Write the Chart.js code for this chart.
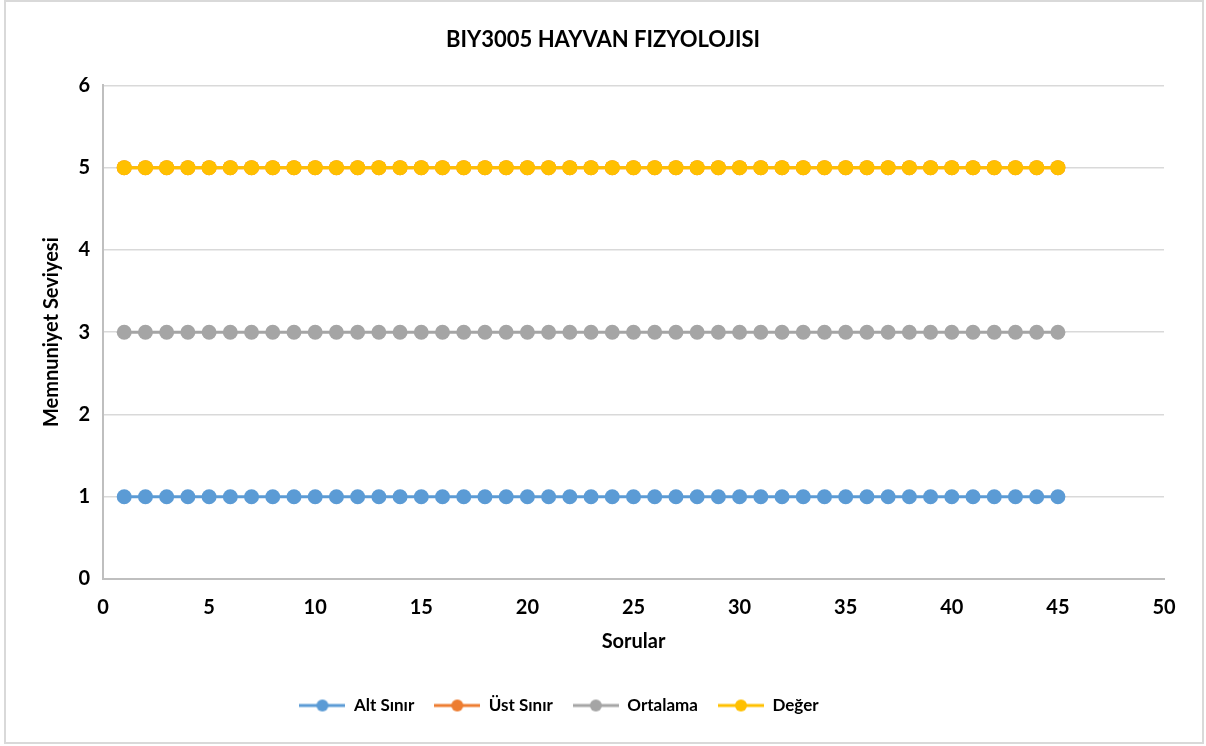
<!DOCTYPE html>
<html>
<head>
<meta charset="utf-8">
<script src="https://cdn.jsdelivr.net/npm/chart.js@4.4.0/dist/chart.umd.min.js"></script>
<style>
  body { margin: 0; background: #fff; }
  #wrap { width: 1206px; height: 746px; position: relative; }
</style>
</head>
<body>
<div id="wrap"><canvas id="myChart" width="1206" height="746"></canvas></div>
<script>
// data: 45 questions, flat lines
const sorular = [];
for (let i = 1; i <= 45; i++) sorular.push(i);

const altSinir = [1,1,1,1,1,1,1,1,1,1,1,1,1,1,1,1,1,1,1,1,1,1,1,1,1,1,1,1,1,1,1,1,1,1,1,1,1,1,1,1,1,1,1,1,1];
const ustSinir = [5,5,5,5,5,5,5,5,5,5,5,5,5,5,5,5,5,5,5,5,5,5,5,5,5,5,5,5,5,5,5,5,5,5,5,5,5,5,5,5,5,5,5,5,5];
const ortalama = [3,3,3,3,3,3,3,3,3,3,3,3,3,3,3,3,3,3,3,3,3,3,3,3,3,3,3,3,3,3,3,3,3,3,3,3,3,3,3,3,3,3,3,3,3];
const deger    = [5,5,5,5,5,5,5,5,5,5,5,5,5,5,5,5,5,5,5,5,5,5,5,5,5,5,5,5,5,5,5,5,5,5,5,5,5,5,5,5,5,5,5,5,5];

const seriesNames = ['Alt Sınır', 'Üst Sınır', 'Ortalama', 'Değer'];
const colors = ['#5B9BD5', '#ED7D31', '#A5A5A5', '#FFC000'];
const xTicks = [0, 50, 5];
const yTicks = [0, 6, 1];

const FONT = 'Lato, "Open Sans", sans-serif';

function toPoints(arr) {
    return arr.map((v, i) => ({ x: sorular[i], y: v }));
}

// legend marker: line with a dot in the middle
function legendMark(color) {
    const c = document.createElement('canvas');
    c.width = 46;
    c.height = 14;
    const g = c.getContext('2d');
    g.strokeStyle = color;
    g.lineWidth = 3;
    g.beginPath();
    g.moveTo(0, 7);
    g.lineTo(46, 7);
    g.stroke();
    g.fillStyle = color;
    g.beginPath();
    g.arc(23, 7, 6, 0, Math.PI * 2);
    g.fill();
    return c;
}

const allSeries = [altSinir, ustSinir, ortalama, deger];
const datasets = allSeries.map((s, i) => ({
    label: seriesNames[i],
    data: toPoints(s),
    borderColor: colors[i],
    backgroundColor: colors[i],
    borderWidth: 3,
    pointRadius: 7.5,
    pointHoverRadius: 7.5,
    pointBorderWidth: 0,
    order: i === 3 ? 0 : 1
}));

const borderPlugin = {
    id: 'outerBorder',
    afterLayout(chart) {
        // title centred on the whole picture, legend a bit to the left like excel
        chart.titleBlock.left = 0;
        chart.titleBlock.right = chart.width;
        chart.legend.left = 0;
        chart.legend.right = 1118;
    },
    beforeDraw(chart) {
        const c = chart.ctx;
        c.save();
        c.fillStyle = '#fff';
        c.fillRect(0, 0, chart.width, chart.height);
        c.strokeStyle = '#d9d9d9';
        c.lineWidth = 2;
        c.strokeRect(5, 1, 1198, 742);
        c.restore();
    }
};

const ctx = document.getElementById('myChart').getContext('2d');
const myChart = new Chart(ctx, {
    type: 'line',
    data: { datasets: datasets },
    plugins: [borderPlugin],
    options: {
        responsive: false,
        animation: false,
        layout: { padding: { left: 0, right: 42, top: 0, bottom: 22 } },
        plugins: {
            title: {
                display: true,
                text: 'BIY3005 HAYVAN FIZYOLOJISI',
                color: '#000',
                font: { family: FONT, size: 22, weight: 'bold' },
                padding: { top: 27, bottom: 32 }
            },
            legend: {
                position: 'bottom',
                labels: {
                    usePointStyle: true,
                    pointStyleWidth: 46,
                    boxHeight: 14,
                    padding: 20,
                    color: '#000',
                    font: { family: FONT, size: 17, weight: 'bold' },
                    sort: (a, b) => a.datasetIndex - b.datasetIndex,
                    generateLabels(chart) {
                        return chart.data.datasets.map((d, i) => ({
                            text: d.label,
                            datasetIndex: i,
                            pointStyle: legendMark(colors[i]),
                            fillStyle: colors[i],
                            strokeStyle: colors[i],
                            lineWidth: 0,
                            hidden: false,
                            fontColor: '#000'
                        }));
                    }
                }
            },
            tooltip: { enabled: false }
        },
        scales: {
            x: {
                type: 'linear',
                min: xTicks[0],
                max: xTicks[1],
                afterFit(scale) { scale.height = 98; },
                ticks: {
                    stepSize: xTicks[2],
                    color: '#000',
                    padding: 17,
                    font: { family: FONT, size: 20, weight: 'bold' }
                },
                grid: { display: false, drawTicks: false },
                border: { display: true, color: '#bfbfbf', width: 2 },
                title: {
                    display: true,
                    text: 'Sorular',
                    color: '#000',
                    font: { family: FONT, size: 20, weight: 'bold' },
                    padding: { top: 0, bottom: 23 }
                }
            },
            y: {
                min: yTicks[0],
                max: yTicks[1],
                afterFit(scale) { scale.width = 103; },
                ticks: {
                    stepSize: yTicks[2],
                    color: '#000',
                    padding: 13,
                    font: { family: FONT, size: 20, weight: 'bold' }
                },
                grid: { color: '#d9d9d9', lineWidth: 1.5, drawTicks: false },
                border: { display: true, color: '#bfbfbf', width: 2 },
                title: {
                    display: true,
                    text: 'Memnuniyet Seviyesi',
                    color: '#000',
                    font: { family: FONT, size: 20, weight: 'bold' },
                    padding: { top: 40, bottom: 0 }
                }
            }
        }
    }
});
</script>
</body>
</html>
